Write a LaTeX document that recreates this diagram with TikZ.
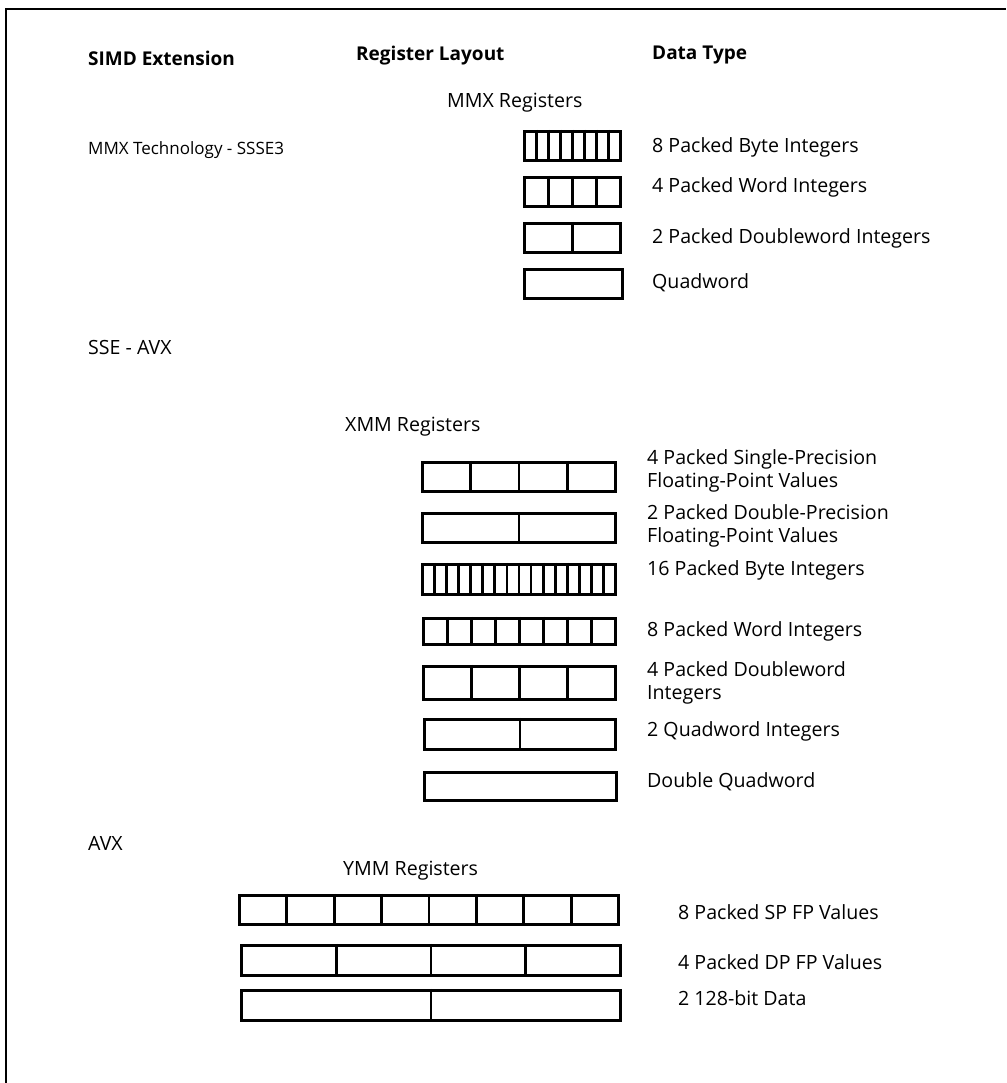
\documentclass[tikz,border=0pt]{standalone}
\usepackage{fontspec}
\setmainfont{Open Sans}
\usetikzlibrary{calc}
\newcommand\regbox[6]{%
  \node[regbox, minimum width={(#4-#2-2.8)*1pt}, minimum height={(#5-#3-2.8)*1pt}] (#1) at ({(#2+#4)/2},{(#3+#5)/2}) {};
  \ifnum#6>1
    \pgfmathtruncatemacro\lastcell{#6-1}%
    \foreach \k in {1,...,\lastcell}
      \draw[divider] ($(#1.north west)!\k/#6!(#1.north east)+(0,-1.5)$) -- ($(#1.south west)!\k/#6!(#1.south east)$);
  \fi}
\begin{document}
\begin{tikzpicture}[x=1pt,y=-1pt,
  lbl/.style={anchor=west, inner sep=0pt, font=\fontsize{19.6}{23}\selectfont, align=left},
  hdr/.style={anchor=west, inner sep=0pt, font=\fontsize{19}{23}\selectfont\bfseries},
  smalllbl/.style={anchor=west, inner sep=0pt, font=\fontsize{17}{20}\selectfont},
  regbox/.style={draw, line width=2.8pt, inner sep=0pt, outer sep=0pt},
  divider/.style={line width=2.8pt},
  frameline/.style={line width=2pt}]
\useasboundingbox (0,0) rectangle (1006,1083);
\draw[frameline] (6,1083) -- (6,9) -- (1006,9);
% headers
\node[hdr] (h1) at (88,58) {SIMD Extension};
\node[hdr] (h2) at (356,56) {Register Layout};
\node[hdr] (h3) at (652,55) {Data Type};
% MMX
\node[lbl] (mmxt) at (447,103) {MMX Registers};
\node[smalllbl] (mmxext) at (88,150) {MMX Technology - SSSE3};
\regbox{mmxa}{523}{130}{622}{162}{8}
\regbox{mmxb}{523}{176}{622}{208}{4}
\regbox{mmxc}{523}{222}{622}{254}{2}
\regbox{mmxd}{523}{268}{624}{300}{1}
\node[lbl] (mmxla) at (652,147) {8 Packed Byte Integers};
\node[lbl] (mmxlb) at (652,187) {4 Packed Word Integers};
\node[lbl] (mmxlc) at (652,238) {2 Packed Doubleword Integers};
\node[lbl] (mmxld) at (652,283) {Quadword};
% SSE
\node[lbl] (sseext) at (88,347) {SSE - AVX};
\node[lbl] (xmmt) at (345,427) {XMM Registers};
\regbox{xmma}{421}{461}{617}{493}{4}
\regbox{xmmb}{421}{512}{617}{544}{2}
\regbox{xmmc}{421}{563}{617}{596}{16}
\regbox{xmmd}{422}{617}{617}{646}{8}
\regbox{xmme}{422}{665}{617}{701}{4}
\regbox{xmmf}{423}{718}{617}{751}{2}
\regbox{xmmg}{423}{771}{618}{802}{1}
\node[lbl] (xmmla) at (647,471) {4 Packed Single-Precision\\Floating-Point Values};
\node[lbl] (xmmlb) at (647,526) {2 Packed Double-Precision\\Floating-Point Values};
\node[lbl] (xmmlc) at (647,570) {16 Packed Byte Integers};
\node[lbl] (xmmld) at (647,631) {8 Packed Word Integers};
\node[lbl] (xmmle) at (647,683) {4 Packed Doubleword\\Integers};
\node[lbl] (xmmlf) at (647,731) {2 Quadword Integers};
\node[lbl] (xmmlg) at (647,782) {Double Quadword};
% AVX
\node[lbl] (avxext) at (88,843) {AVX};
\node[lbl] (ymmt) at (343,871) {YMM Registers};
\regbox{ymma}{238}{894}{620}{926}{8}
\regbox{ymmb}{240}{944}{622}{977}{4}
\regbox{ymmc}{240}{989}{622}{1022}{2}
\node[lbl] (ymmla) at (678,912) {8 Packed SP FP Values};
\node[lbl] (ymmlb) at (678,962) {4 Packed DP FP Values};
\node[lbl] (ymmlc) at (678,998) {2 128-bit Data};
\end{tikzpicture}
\end{document}
